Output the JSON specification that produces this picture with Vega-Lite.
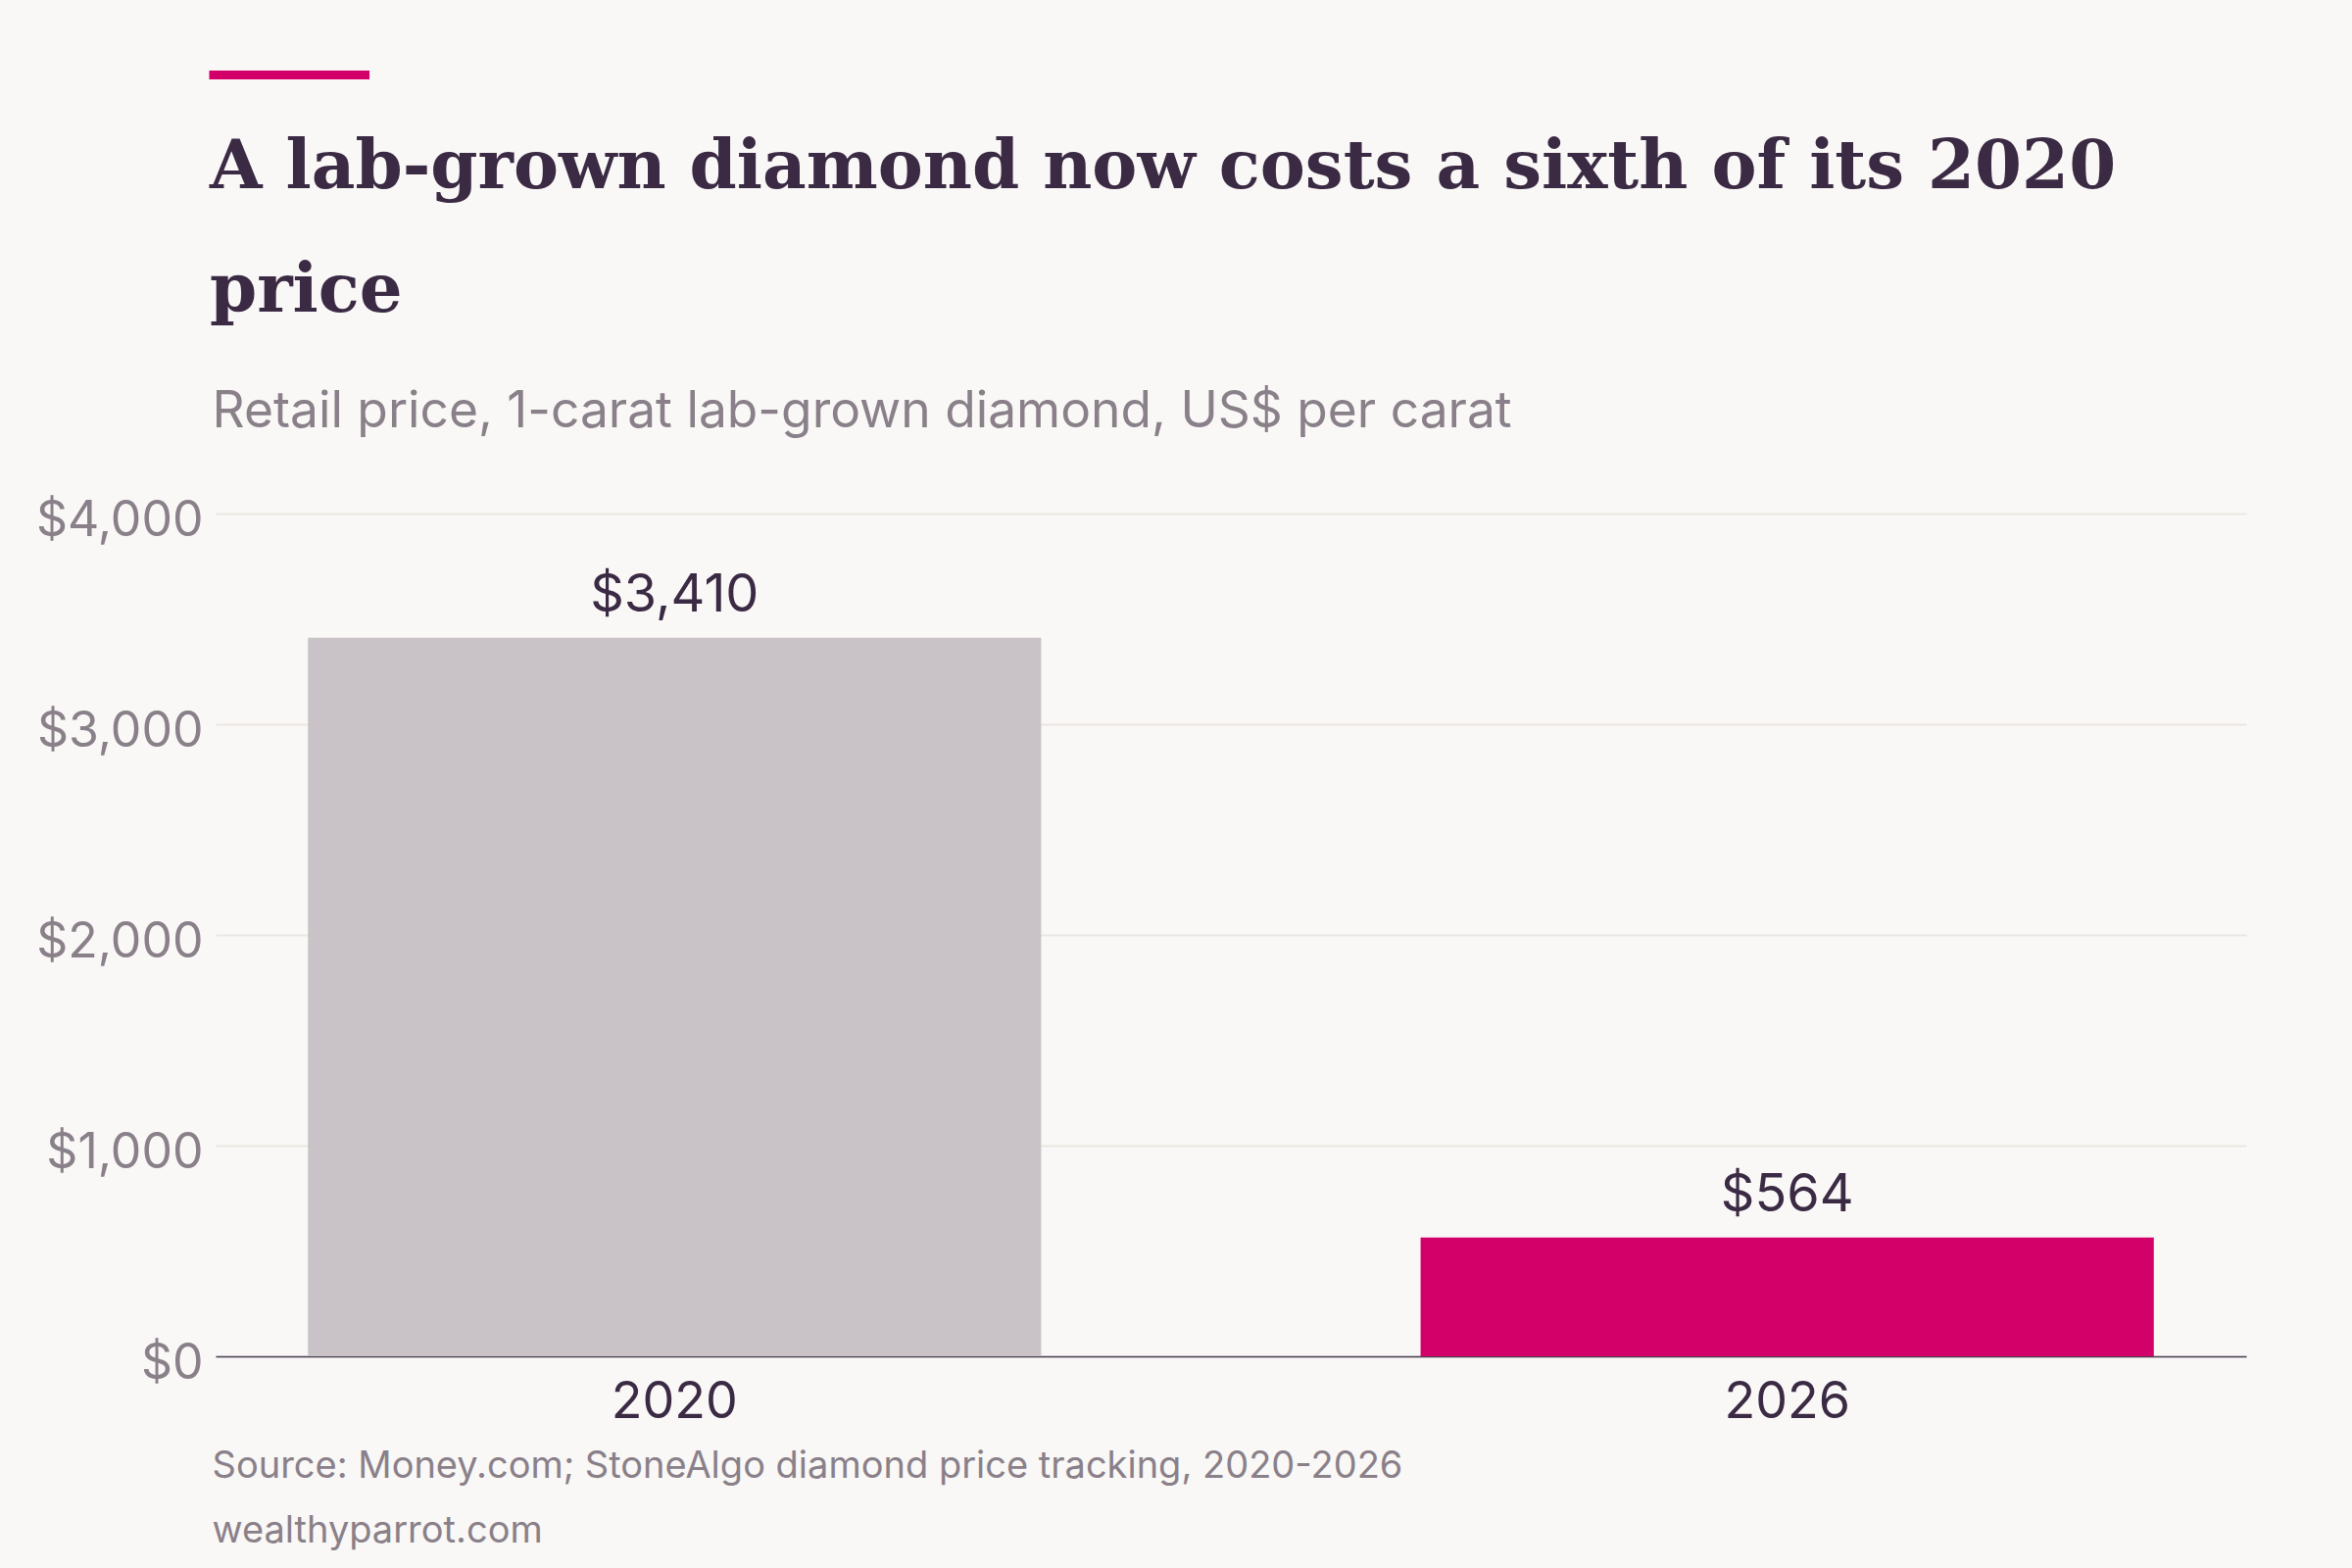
{
  "$schema": "https://vega.github.io/schema/vega-lite/v6.json",
  "autosize": {"type": "none"},
  "padding": {"left": 220, "top": 524, "right": 108, "bottom": 216},
  "width": 2072,
  "height": 860,
  "background": "#f9f8f6",
  "config": {"view": {"stroke": null}},
  "title": {
    "text": "━━━━━",
    "subtitle": ["A lab-grown diamond now costs a sixth of its 2020", "price"],
    "anchor": "start",
    "frame": "group",
    "font": "DejaVu Sans Mono",
    "fontSize": 54,
    "fontWeight": "bold",
    "color": "#d4006a",
    "subtitleFont": "DejaVu Serif",
    "subtitleFontSize": 69,
    "subtitleFontWeight": "bold",
    "subtitleColor": "#3b2a44",
    "subtitleLineHeight": 126,
    "subtitlePadding": 31,
    "offset": 62,
    "dx": -6
  },
  "data": {"values": [
    {"year": "2020", "price": 3410},
    {"year": "2026", "price": 564}
  ]},
  "encoding": {
    "x": {
      "field": "year", "type": "nominal", "sort": null,
      "scale": {"paddingInner": 0.341, "paddingOuter": 0.083},
      "axis": {
        "title": ["Source: Money.com; StoneAlgo diamond price tracking, 2020-2026", "wealthyparrot.com"],
        "titleFont": "Inter", "titleFontSize": 38, "titleFontWeight": "normal", "titleColor": "#8a8089",
        "titleAnchor": "start", "titleAlign": "left", "titleBaseline": "alphabetic",
        "titleX": -4, "titleY": 123, "titleLineHeight": 66,
        "labelAngle": 0, "labelFont": "Inter", "labelFontSize": 52, "labelColor": "#3b2a44",
        "labelPadding": 21, "ticks": false, "domainColor": "#4a3d52", "domainWidth": 1.5, "grid": false
      }
    },
    "y": {
      "field": "price", "type": "quantitative",
      "scale": {"domain": [0, 4000]},
      "axis": {
        "title": "Retail price, 1-carat lab-grown diamond, US$ per carat",
        "titleAngle": 0, "titleAlign": "left", "titleBaseline": "alphabetic",
        "titleX": -4, "titleY": -89,
        "titleFont": "Inter", "titleFontSize": 51.5, "titleFontWeight": "normal", "titleColor": "#8a8089",
        "values": [0, 1000, 2000, 3000, 4000], "format": "$,.0f",
        "labelFont": "Inter", "labelFontSize": 50, "labelColor": "#8a8089", "labelPadding": 13, "labelOffset": 7,
        "ticks": false, "domain": false, "gridColor": "#ebe6e2", "gridWidth": 2
      }
    }
  },
  "layer": [
    {
      "mark": {"type": "bar"},
      "encoding": {
        "color": {"field": "year", "type": "nominal", "scale": {"domain": ["2020", "2026"], "range": ["#c9c3c7", "#d4006a"]}, "legend": null}
      }
    },
    {
      "mark": {"type": "text", "dy": -27, "baseline": "alphabetic", "font": "Inter", "fontSize": 54, "color": "#3b2a44"},
      "encoding": {"text": {"field": "price", "type": "quantitative", "format": "$,.0f"}}
    }
  ]
}
